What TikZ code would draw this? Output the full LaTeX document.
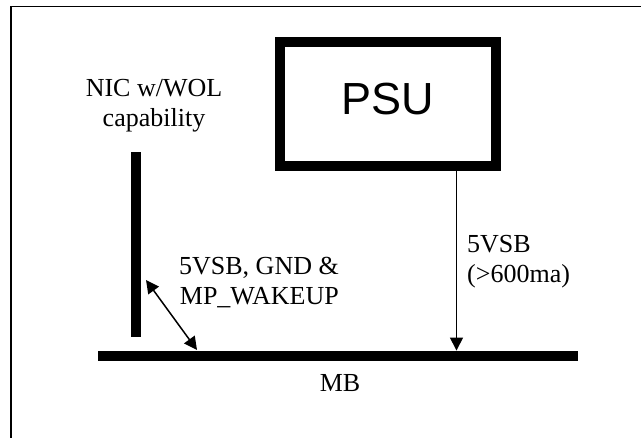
\documentclass[tikz,border=0pt]{standalone}
\usepackage{fontspec}
\setmainfont{Liberation Serif}
\newfontfamily\psufont{Liberation Sans}
\usetikzlibrary{arrows.meta}

\begin{document}
\begin{tikzpicture}[x=1pt, y=-1pt, >={Triangle[width=13pt,length=13pt]},
  lbl/.style={font=\fontsize{26}{30}\selectfont, inner sep=0pt},
  bar/.style={fill=black, draw=none, inner sep=0pt},
  wire/.style={line width=1.5pt}]
  \useasboundingbox (0,0) rectangle (641,438);
  %% ── Frame (runs off the page at right and bottom) ─────────
  \draw[line width=1.5pt] (11,6.7) rectangle (660,460);

  %% ── Power supply ─────────────────────────────────────────
  \node[draw, line width=10pt, minimum width=215.7pt, minimum height=123.7pt,
        inner sep=0pt, text depth=10pt,
        font=\psufont\fontsize{45}{54}\selectfont] (psu) at (388,104) {PSU};

  %% ── Mainboard and NIC card ───────────────────────────────
  \node[bar, minimum width=480pt, minimum height=10.5pt] (mb) at (338,356) {};
  \node[lbl] (mblbl) at (340,383) {MB};
  \node[bar, minimum width=10.5pt, minimum height=185pt] (nic) at (136,245) {};
  \node[lbl, align=center] (niclbl) at (154,106) {NIC w/WOL\\capability};

  %% ── Connections ──────────────────────────────────────────
  \coordinate (tap) at (456.5,0);
  \draw[wire,->] (psu.south -| tap) -- (mb.north -| tap);
  \node[lbl, align=left, anchor=west] (sblbl) at (467,262) {5VSB\\(>600ma)};

  \coordinate (wolA) at (146,280);
  \coordinate (wolB) at (197,350);
  \draw[wire,<->] (wolA) -- (wolB);
  \node[lbl, align=right, anchor=east] (wollbl) at (339,283)
    {5VSB, GND \&\\MP\_WAKEUP};
\end{tikzpicture}
\end{document}
